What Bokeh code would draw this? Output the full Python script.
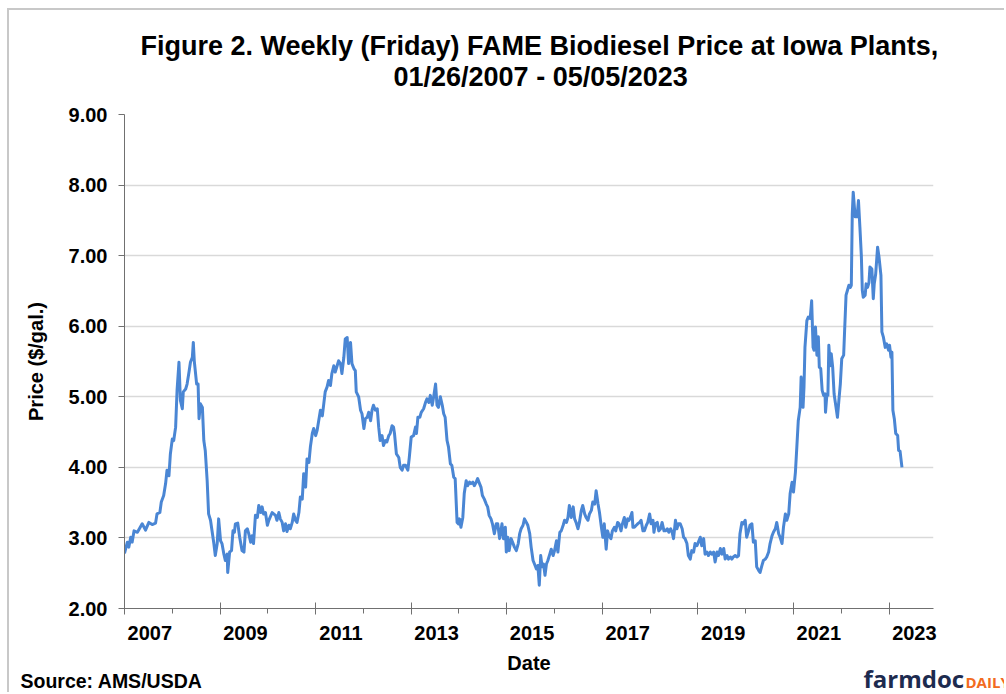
from bokeh.plotting import figure
from bokeh.models import (Range1d, LinearAxis, FixedTicker, PrintfTickFormatter,
                          Title, ColumnDataSource)
from bokeh.embed import file_html
from bokeh.resources import INLINE

# ---------------- data ----------------
dates = [
    2007.07, 2007.13, 2007.16, 2007.20, 2007.23, 2007.27, 2007.34, 2007.44, 2007.51, 2007.58,
    2007.65, 2007.72, 2007.75, 2007.81, 2007.84, 2007.89, 2007.93, 2007.96, 2008.00, 2008.03,
    2008.07, 2008.10, 2008.14, 2008.17, 2008.21, 2008.24, 2008.28, 2008.30, 2008.35, 2008.38,
    2008.42, 2008.45, 2008.49, 2008.51, 2008.53, 2008.58, 2008.61, 2008.63, 2008.66, 2008.70,
    2008.73, 2008.76, 2008.80, 2008.83, 2008.87, 2008.90, 2008.94, 2008.97, 2009.01, 2009.04,
    2009.08, 2009.11, 2009.15, 2009.18, 2009.22, 2009.23, 2009.27, 2009.31, 2009.34, 2009.37,
    2009.39, 2009.44, 2009.48, 2009.53, 2009.57, 2009.60, 2009.64, 2009.67, 2009.71, 2009.74,
    2009.77, 2009.81, 2009.85, 2009.88, 2009.92, 2009.95, 2009.98, 2010.02, 2010.06, 2010.09,
    2010.16, 2010.23, 2010.26, 2010.30, 2010.33, 2010.37, 2010.40, 2010.44, 2010.47, 2010.51,
    2010.54, 2010.58, 2010.61, 2010.65, 2010.68, 2010.72, 2010.75, 2010.79, 2010.82, 2010.86,
    2010.89, 2010.93, 2010.96, 2011.00, 2011.03, 2011.07, 2011.10, 2011.17, 2011.21, 2011.24,
    2011.27, 2011.31, 2011.34, 2011.38, 2011.41, 2011.45, 2011.48, 2011.52, 2011.55, 2011.59,
    2011.62, 2011.66, 2011.69, 2011.73, 2011.76, 2011.80, 2011.83, 2011.87, 2011.90, 2011.92,
    2011.97, 2012.01, 2012.04, 2012.08, 2012.11, 2012.15, 2012.18, 2012.22, 2012.25, 2012.28,
    2012.32, 2012.36, 2012.39, 2012.42, 2012.46, 2012.49, 2012.53, 2012.56, 2012.60, 2012.63,
    2012.67, 2012.70, 2012.72, 2012.76, 2012.81, 2012.84, 2012.88, 2012.91, 2012.95, 2013.00,
    2013.03, 2013.07, 2013.12, 2013.16, 2013.18, 2013.21, 2013.25, 2013.28, 2013.33, 2013.37,
    2013.40, 2013.44, 2013.47, 2013.51, 2013.54, 2013.58, 2013.61, 2013.64, 2013.68, 2013.72,
    2013.75, 2013.78, 2013.82, 2013.85, 2013.89, 2013.92, 2013.96, 2013.99, 2014.03, 2014.06,
    2014.08, 2014.11, 2014.15, 2014.18, 2014.22, 2014.25, 2014.29, 2014.32, 2014.36, 2014.39,
    2014.43, 2014.46, 2014.50, 2014.53, 2014.56, 2014.60, 2014.64, 2014.67, 2014.70, 2014.74,
    2014.77, 2014.81, 2014.85, 2014.88, 2014.92, 2014.97, 2015.00, 2015.04, 2015.06, 2015.09,
    2015.12, 2015.16, 2015.19, 2015.23, 2015.27, 2015.31, 2015.34, 2015.37, 2015.41, 2015.44,
    2015.48, 2015.51, 2015.55, 2015.58, 2015.62, 2015.65, 2015.69, 2015.72, 2015.75, 2015.78,
    2015.81, 2015.84, 2015.87, 2015.90, 2015.93, 2015.97, 2016.00, 2016.04, 2016.07, 2016.11,
    2016.14, 2016.18, 2016.21, 2016.25, 2016.28, 2016.32, 2016.35, 2016.38, 2016.42, 2016.46,
    2016.49, 2016.52, 2016.56, 2016.59, 2016.63, 2016.66, 2016.70, 2016.73, 2016.77, 2016.80,
    2016.84, 2016.87, 2016.91, 2016.94, 2016.98, 2017.01, 2017.05, 2017.08, 2017.11, 2017.15,
    2017.18, 2017.21, 2017.25, 2017.28, 2017.32, 2017.35, 2017.39, 2017.42, 2017.46, 2017.49,
    2017.53, 2017.56, 2017.60, 2017.63, 2017.67, 2017.69, 2017.71, 2017.74, 2017.78, 2017.81,
    2017.85, 2017.88, 2017.92, 2017.95, 2017.99, 2018.02, 2018.06, 2018.09, 2018.13, 2018.15,
    2018.18, 2018.22, 2018.25, 2018.29, 2018.32, 2018.36, 2018.39, 2018.43, 2018.46, 2018.50,
    2018.53, 2018.56, 2018.60, 2018.63, 2018.66, 2018.70, 2018.74, 2018.77, 2018.80, 2018.84,
    2018.87, 2018.91, 2018.94, 2018.98, 2019.01, 2019.05, 2019.08, 2019.12, 2019.15, 2019.19,
    2019.22, 2019.26, 2019.29, 2019.33, 2019.36, 2019.40, 2019.43, 2019.47, 2019.50, 2019.54,
    2019.57, 2019.61, 2019.64, 2019.68, 2019.71, 2019.75, 2019.78, 2019.81, 2019.85, 2019.89,
    2019.92, 2019.95, 2019.99, 2020.02, 2020.06, 2020.09, 2020.13, 2020.16, 2020.20, 2020.23,
    2020.27, 2020.30, 2020.34, 2020.37, 2020.41, 2020.44, 2020.48, 2020.51, 2020.55, 2020.58,
    2020.62, 2020.65, 2020.69, 2020.72, 2020.76, 2020.79, 2020.83, 2020.86, 2020.90, 2020.93,
    2020.97, 2021.00, 2021.04, 2021.07, 2021.11, 2021.14, 2021.17, 2021.21, 2021.23, 2021.27,
    2021.29, 2021.31, 2021.35, 2021.38, 2021.42, 2021.45, 2021.48, 2021.50, 2021.53, 2021.56,
    2021.59, 2021.61, 2021.64, 2021.67, 2021.70, 2021.73, 2021.74, 2021.77, 2021.79, 2021.81,
    2021.84, 2021.86, 2021.89, 2021.92, 2021.96, 2021.99, 2022.02, 2022.05, 2022.08, 2022.12,
    2022.14, 2022.17, 2022.20, 2022.23, 2022.26, 2022.28, 2022.30, 2022.32, 2022.36, 2022.40,
    2022.43, 2022.46, 2022.49, 2022.51, 2022.53, 2022.57, 2022.59, 2022.62, 2022.65, 2022.67,
    2022.71, 2022.74, 2022.76, 2022.79, 2022.83, 2022.86, 2022.90, 2022.92, 2022.95, 2022.99,
    2023.02, 2023.06, 2023.08, 2023.11, 2023.13, 2023.15, 2023.18, 2023.21, 2023.25, 2023.27,
    2023.30, 2023.34,
]

prices = [
    2.78, 2.94, 2.87, 3.01, 2.94, 3.10, 3.08, 3.20, 3.11, 3.22,
    3.19, 3.21, 3.34, 3.36, 3.51, 3.60, 3.77, 3.96, 3.88, 4.19,
    4.40, 4.38, 4.57, 5.09, 5.49, 4.95, 4.83, 5.07, 5.11, 5.18,
    5.35, 5.49, 5.56, 5.77, 5.51, 5.18, 5.18, 4.69, 4.90, 4.85,
    4.38, 4.24, 3.81, 3.34, 3.25, 3.11, 2.92, 2.75, 2.92, 3.27,
    2.96, 2.92, 2.77, 2.68, 2.77, 2.51, 2.80, 2.82, 3.10, 3.08,
    3.20, 3.21, 3.01, 2.82, 2.80, 3.10, 3.13, 3.06, 2.94, 3.03,
    2.92, 3.32, 3.29, 3.46, 3.36, 3.44, 3.34, 3.36, 3.18, 3.25,
    3.36, 3.32, 3.25, 3.36, 3.27, 3.22, 3.10, 3.20, 3.09, 3.18,
    3.13, 3.22, 3.34, 3.25, 3.22, 3.36, 3.58, 3.55, 3.91, 3.72,
    4.12, 4.07, 4.29, 4.48, 4.55, 4.45, 4.52, 4.81, 4.73, 4.90,
    5.07, 5.14, 5.23, 5.16, 5.33, 5.44, 5.35, 5.44, 5.51, 5.47,
    5.33, 5.56, 5.82, 5.84, 5.47, 5.77, 5.47, 5.40, 5.37, 5.07,
    5.00, 4.81, 4.76, 4.55, 4.69, 4.71, 4.78, 4.66, 4.81, 4.88,
    4.81, 4.83, 4.57, 4.38, 4.45, 4.31, 4.38, 4.36, 4.45, 4.48,
    4.59, 4.57, 4.48, 4.19, 4.14, 4.00, 3.96, 4.03, 4.03, 3.96,
    4.14, 4.43, 4.45, 4.57, 4.48, 4.71, 4.71, 4.78, 4.83, 4.92,
    4.97, 4.92, 5.02, 4.88, 5.00, 5.18, 4.88, 4.85, 5.00, 4.88,
    4.76, 4.71, 4.38, 4.29, 4.05, 4.03, 3.86, 3.84, 3.22, 3.20,
    3.27, 3.15, 3.29, 3.63, 3.81, 3.74, 3.79, 3.77, 3.79, 3.74,
    3.79, 3.84, 3.77, 3.72, 3.60, 3.55, 3.48, 3.44, 3.32, 3.27,
    3.20, 3.06, 3.20, 3.20, 2.99, 3.20, 2.99, 3.15, 2.80, 3.01,
    2.82, 2.99, 2.94, 2.87, 2.82, 2.92, 3.06, 3.13, 3.18, 3.27,
    3.22, 3.18, 3.06, 2.87, 2.68, 2.63, 2.56, 2.61, 2.33, 2.75,
    2.59, 2.63, 2.47, 2.63, 2.68, 2.77, 2.84, 2.75, 2.82, 2.96,
    2.80, 3.08, 3.10, 3.18, 3.25, 3.22, 3.29, 3.46, 3.29, 3.44,
    3.27, 3.22, 3.13, 3.22, 3.39, 3.46, 3.34, 3.29, 3.25, 3.34,
    3.39, 3.51, 3.48, 3.67, 3.48, 3.36, 3.15, 3.01, 3.20, 2.84,
    3.10, 3.03, 2.99, 3.10, 3.15, 3.10, 3.22, 3.20, 3.10, 3.20,
    3.29, 3.15, 3.27, 3.25, 3.32, 3.36, 3.15, 3.15, 3.18, 3.20,
    3.22, 3.25, 3.10, 3.10, 3.18, 3.22, 3.34, 3.20, 3.25, 3.08,
    3.20, 3.22, 3.10, 3.13, 3.22, 3.10, 3.10, 3.13, 3.08, 3.13,
    3.08, 2.99, 3.25, 3.13, 3.20, 3.20, 3.13, 3.01, 2.99, 2.92,
    2.75, 2.70, 2.82, 2.80, 2.92, 2.89, 2.94, 3.01, 2.89, 2.99,
    2.77, 2.80, 2.75, 2.80, 2.77, 2.80, 2.66, 2.80, 2.75, 2.85,
    2.77, 2.85, 2.70, 2.75, 2.70, 2.73, 2.70, 2.73, 2.75, 2.73,
    2.75, 3.06, 3.22, 3.20, 3.25, 3.01, 3.10, 3.18, 3.20, 2.94,
    2.96, 2.59, 2.54, 2.51, 2.61, 2.68, 2.70, 2.73, 2.80, 2.92,
    3.03, 3.08, 3.13, 3.22, 3.06, 3.01, 2.92, 3.15, 3.34, 3.25,
    3.34, 3.63, 3.79, 3.65, 3.93, 4.29, 4.66, 4.85, 5.28, 4.85,
    5.14, 5.70, 6.08, 6.13, 6.11, 6.36, 5.70, 5.66, 5.99, 5.59,
    5.85, 5.42, 5.40, 5.09, 5.02, 5.04, 4.78, 5.04, 5.02, 5.73,
    5.44, 5.61, 5.42, 5.04, 4.85, 4.71, 4.95, 5.18, 5.54, 5.59,
    5.94, 6.44, 6.51, 6.58, 6.55, 6.58, 7.59, 7.90, 7.55, 7.55,
    7.78, 7.40, 7.00, 6.51, 6.41, 6.44, 6.60, 6.55, 6.62, 6.84,
    6.81, 6.39, 6.60, 6.74, 7.12, 6.98, 6.72, 5.92, 5.85, 5.70,
    5.75, 5.66, 5.73, 5.56, 5.63, 4.81, 4.69, 4.48, 4.45, 4.24,
    4.23, 4.00,
]

y_ticks = [2, 3, 4, 5, 6, 7, 8, 9]
year_labels = ["2007", "2009", "2011", "2013", "2015", "2017", "2019", "2021", "2023"]

title_line1 = "Figure 2. Weekly (Friday) FAME Biodiesel Price at Iowa Plants,"
title_line2 = "01/26/2007 - 05/05/2023"
y_title = "Price ($/gal.)"
x_title = "Date"
source_text = "Source: AMS/USDA"
logo_part1 = "farmdoc"
logo_part2 = "DAILY"

# ---------------- styling ----------------
FONT = "Liberation Sans"
AXIS_COLOR = "#707070"
GRID_COLOR = "#d9d9d9"
LINE_COLOR = "#4a86d4"

axis_start = dates[0]          # axis begins at the first observation
axis_end = 2024.0

p = figure(width=997, height=684, output_backend="svg", toolbar_location=None,
           x_range=Range1d(axis_start, axis_end), y_range=Range1d(2, 9),
           x_axis_location=None, y_axis_location="left",
           min_border_left=115, min_border_right=73,
           min_border_top=104, min_border_bottom=86)
p.styles = {"border-left": "2px solid #c8c8c8", "border-top": "2px solid #c8c8c8",
            "margin-left": "7px", "margin-top": "8px"}
p.background_fill_color = "white"
p.border_fill_color = "white"
p.outline_line_color = None

# y axis
p.yaxis.ticker = FixedTicker(ticks=y_ticks)
p.yaxis.formatter = PrintfTickFormatter(format="%.2f")
p.yaxis.major_tick_in = 0
p.yaxis.major_tick_out = 6
p.yaxis.minor_tick_in = 0
p.yaxis.minor_tick_out = 0
p.yaxis.major_label_standoff = 11
p.yaxis.axis_line_color = AXIS_COLOR
p.yaxis.major_tick_line_color = AXIS_COLOR
p.yaxis.major_label_text_font = FONT
p.yaxis.major_label_text_font_style = "bold"
p.yaxis.major_label_text_font_size = "20px"
p.yaxis.major_label_text_color = "black"
p.yaxis.axis_label = y_title
p.yaxis.axis_label_standoff = 19
p.yaxis.axis_label_text_font = FONT
p.yaxis.axis_label_text_font_style = "bold"
p.yaxis.axis_label_text_font_size = "20px"
p.yaxis.axis_label_text_color = "black"

# grid
p.xgrid.visible = False
p.ygrid.ticker = FixedTicker(ticks=y_ticks)
p.ygrid.grid_line_color = GRID_COLOR
p.ygrid.grid_line_width = 1.5

# x axis: tick marks only (major every 2 years, minor every year); no labels drawn
major_pos = [axis_start + 2 * k for k in range(len(year_labels))]
minor_pos = [axis_start + 2 * k + 1 for k in range(len(year_labels) - 1)]
ax_ticks = LinearAxis(ticker=FixedTicker(ticks=major_pos, minor_ticks=minor_pos),
                      major_tick_in=6, major_tick_out=6,
                      minor_tick_in=0, minor_tick_out=5,
                      axis_line_color=AXIS_COLOR, major_tick_line_color=AXIS_COLOR,
                      minor_tick_line_color=AXIS_COLOR,
                      major_label_text_font_size="0px", major_label_text_color=None,
                      major_label_standoff=0)
p.add_layout(ax_ticks, "below")

# x axis: year labels centred in their year
label_pos = [round(int(y) + 0.6, 2) for y in year_labels]
ax_labels = LinearAxis(ticker=FixedTicker(ticks=label_pos, minor_ticks=[]),
                       major_label_overrides={pos: lab for pos, lab in zip(label_pos, year_labels)},
                       axis_line_color=None, major_tick_line_color=None,
                       minor_tick_line_color=None,
                       major_tick_in=0, major_tick_out=0, minor_tick_in=0, minor_tick_out=0,
                       major_label_standoff=11,
                       major_label_text_font=FONT, major_label_text_font_style="bold",
                       major_label_text_font_size="20px", major_label_text_color="black",
                       axis_label=x_title, axis_label_standoff=9,
                       axis_label_text_font=FONT, axis_label_text_font_style="bold",
                       axis_label_text_font_size="20px", axis_label_text_color="black")
p.add_layout(ax_labels, "below")

# source note and logo share one row under the axes (negative standoffs give
# them zero height in the layout, so the bottom margin is not enlarged)
p.add_layout(Title(text=source_text, align="left", offset=-104, standoff=-31,
                   vertical_align="bottom", text_font=FONT, text_font_style="bold",
                   text_font_size="19.5px", text_color="black"), "below")
p.add_layout(Title(text=logo_part1, align="left", offset=739, standoff=-36,
                   vertical_align="bottom", text_font="Open Sans", text_font_style="bold",
                   text_font_size="24px", text_color="#1d2b4f"), "below")
p.add_layout(Title(text=logo_part2, align="left", offset=841, standoff=-31,
                   vertical_align="bottom", text_font="Open Sans", text_font_style="bold",
                   text_font_size="15px", text_color="#f26b21"), "below")

# title (two lines, stacked upward from the plot area)
p.add_layout(Title(text=title_line2, align="left", offset=269, standoff=45,
                   vertical_align="bottom", text_font=FONT, text_font_style="bold",
                   text_font_size="27px", text_color="black"), "above")
p.add_layout(Title(text=title_line1, align="left", offset=16, standoff=-47,
                   vertical_align="bottom", text_font=FONT, text_font_style="bold",
                   text_font_size="27px", text_color="black"), "above")

# series
src = ColumnDataSource(data=dict(date=dates, price=prices))
p.line(x="date", y="price", source=src, line_color=LINE_COLOR, line_width=3,
       line_join="round")

open("out.html", "w").write(file_html(p, INLINE))
